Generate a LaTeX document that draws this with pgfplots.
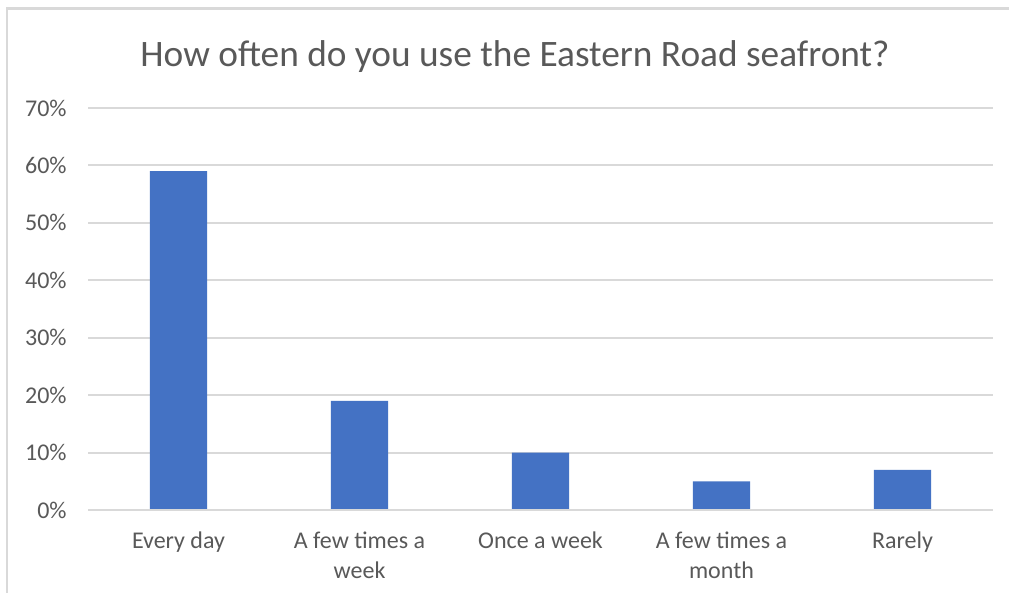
\documentclass[border=0pt]{standalone}
\usepackage{pgfplots}
\pgfplotsset{compat=1.18}
\usepackage{fontspec}
\setmainfont{Carlito}
\definecolor{barblue}{HTML}{4472C4}
\definecolor{gridgray}{HTML}{D9D9D9}
\definecolor{textgray}{HTML}{595959}
\begin{document}
\begin{tikzpicture}[x=0.375pt,y=0.375pt]
% canvas in pixel units, origin bottom-left (593 px tall)
\useasboundingbox (0,0) rectangle (1009,593);
\fill[white] (0,0) rectangle (1009,593);
% chart frame
\draw[gridgray,line width=1.1pt] (7,0) -- (7,584.5) -- (1009,584.5);
% title
\node[text=textgray,font=\fontsize{14}{16.8}\selectfont,anchor=base] at (515,526) {How often do you use the Eastern Road seafront?};
\begin{axis}[
  at={(33pt,31.125pt)}, anchor=south west,
  scale only axis,
  width=339.375pt, height=150.75pt,
  xmin=-0.5, xmax=4.5,
  ymin=0, ymax=70,
  ytick={0,10,...,70},
  yticklabel={\pgfmathprintnumber{\tick}\%},
  /pgf/number format/assume math mode=true,
  xtick=data,
  xticklabels={Every day, A few times a\\week, Once a week, A few times a\\month, Rarely},
  x tick label style={align=center, font=\fontsize{9}{11}\selectfont, text=textgray, anchor=north, yshift=-4.8pt},
  y tick label style={font=\fontsize{9}{10.9}\selectfont, text=textgray, xshift=-4.5pt},
  ymajorgrids,
  grid style={gridgray, line width=0.75pt},
  axis line style={draw=none},
  major tick length=0pt,
  tick style={draw=none},
  clip=false,
]
\addplot[ybar, bar width=21.4pt, fill=barblue, draw=none] coordinates {
  (0,59) (1,19) (2,10) (3,5) (4,7)
};
\draw[gridgray, line width=0.75pt] (axis cs:-0.5,0) -- (axis cs:4.5,0);
\end{axis}
\end{tikzpicture}
\end{document}
